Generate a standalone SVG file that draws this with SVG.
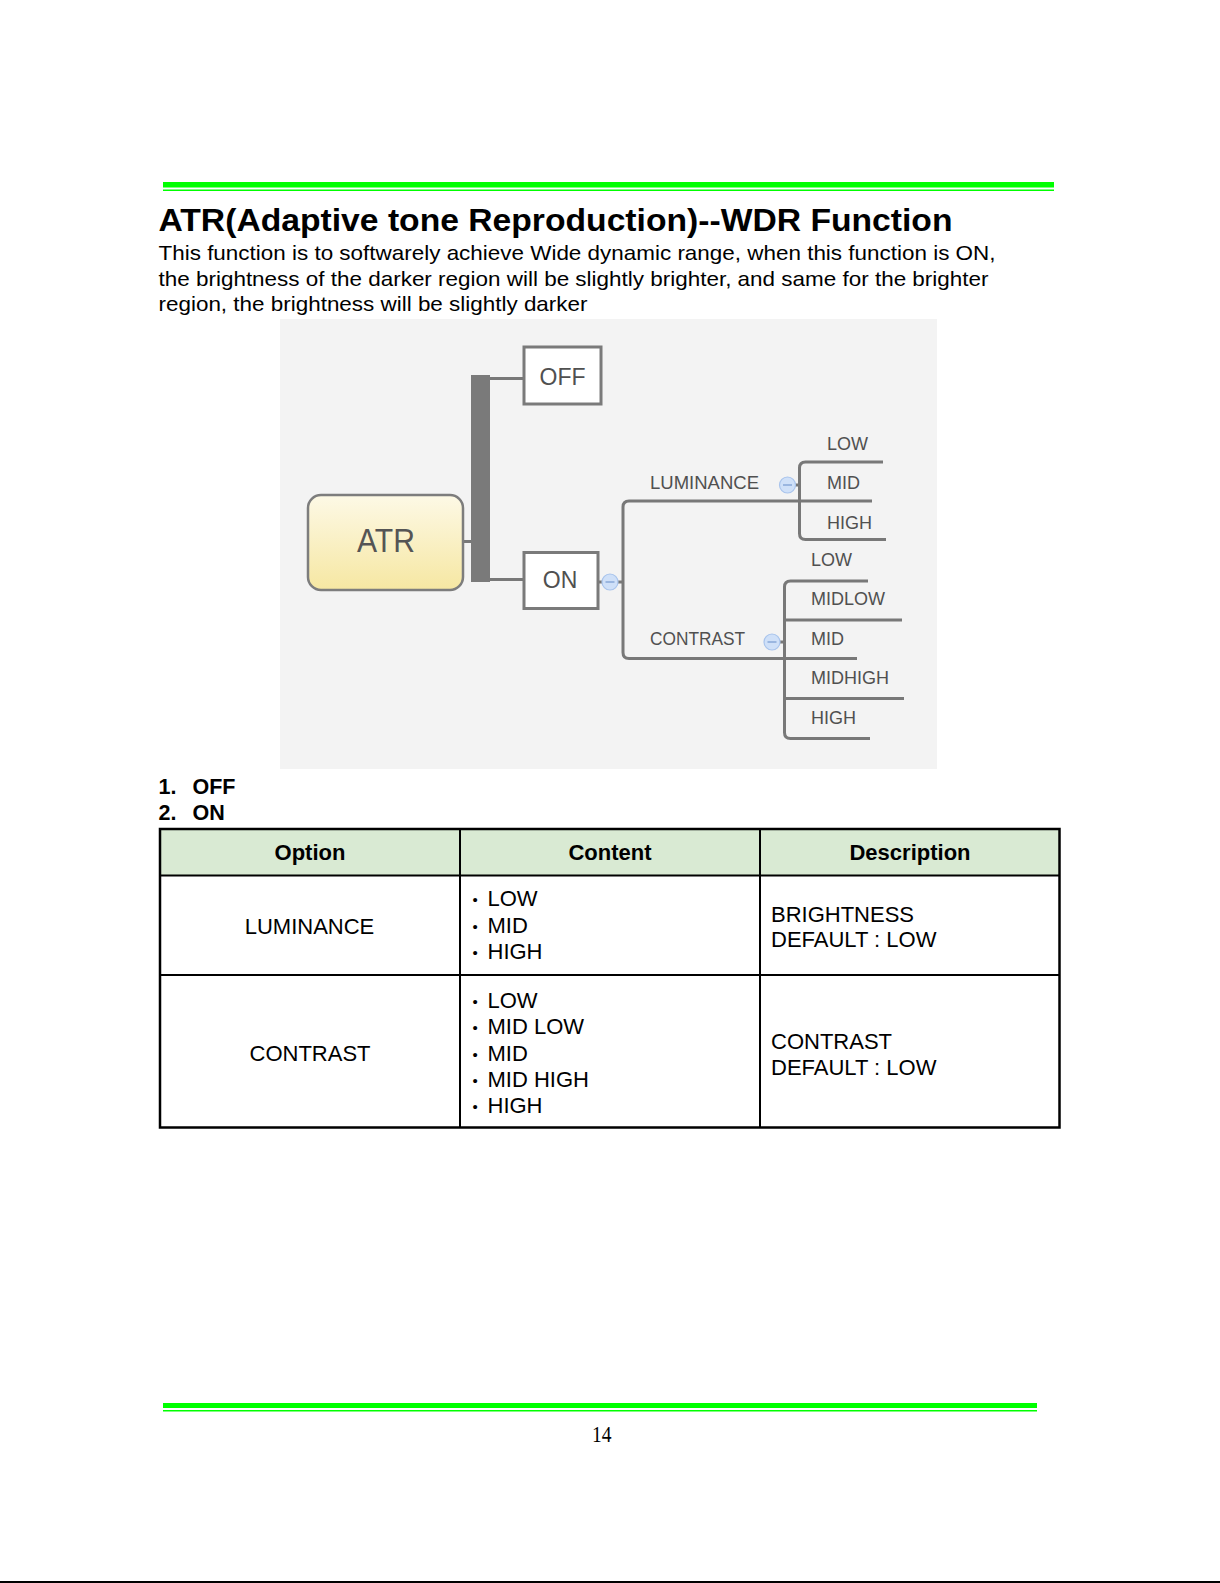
<svg xmlns="http://www.w3.org/2000/svg" width="1220" height="1583" viewBox="0 0 1220 1583">
<defs>
<linearGradient id="atrGrad" x1="0" y1="0" x2="0" y2="1">
<stop offset="0" stop-color="#fdf9e6"/>
<stop offset="1" stop-color="#f6e7a2"/>
</linearGradient>
<style>
.green{fill:#00ff00}
.body{font-family:"Liberation Sans",Arial,sans-serif;font-size:21px;fill:#000}
.title{font-family:"Liberation Sans",Arial,sans-serif;font-size:31px;font-weight:bold;fill:#000}
.bold{font-family:"Liberation Sans",Arial,sans-serif;font-size:21.5px;font-weight:bold;fill:#000}
.mm{font-family:"Liberation Sans",Arial,sans-serif;font-size:18px;fill:#505050}
.box{fill:#fff;stroke:#7a7a7a;stroke-width:3}
.box-t{font-family:"Liberation Sans",Arial,sans-serif;font-size:23px;fill:#505050;text-anchor:middle}
.link{fill:none;stroke:#787878;stroke-width:3}
.minus{fill:#cfe0f8;stroke:#a9c4ec;stroke-width:1.2}
.minus-l{stroke:#7d9fd2;stroke-width:1.3}
.tb{font-family:"Liberation Sans",Arial,sans-serif;font-size:22px;fill:#000}
.th{font-family:"Liberation Sans",Arial,sans-serif;font-size:22px;font-weight:bold;fill:#000;text-anchor:middle}
.tc{text-anchor:middle}
.bul{font-family:"Liberation Sans",Arial,sans-serif;font-size:15px;fill:#000}
.grid{stroke:#000;stroke-width:2}
</style>
</defs>
<rect x="0" y="0" width="1220" height="1583" fill="#fff"/>

<!-- header rule -->
<rect class="green" x="163" y="182" width="891" height="5.5"/>
<rect class="green" x="163" y="189.5" width="891" height="1.5"/>

<text class="title" x="158.5" y="231" textLength="794" lengthAdjust="spacingAndGlyphs">ATR(Adaptive tone Reproduction)--WDR Function</text>
<text class="body" x="158.5" y="260" textLength="837" lengthAdjust="spacingAndGlyphs">This function is to softwarely achieve Wide dynamic range, when this function is ON,</text>
<text class="body" x="158.5" y="285.5" textLength="830" lengthAdjust="spacingAndGlyphs">the brightness of the darker region will be slightly brighter, and same for the brighter</text>
<text class="body" x="158.5" y="311" textLength="429" lengthAdjust="spacingAndGlyphs">region, the brightness will be slightly darker</text>

<!-- mind map -->
<rect x="280" y="319" width="657" height="450" fill="#f3f3f3"/>

<g id="connectors">
<line class="link" x1="463" y1="541.5" x2="472" y2="541.5"/>
<rect x="471" y="375" width="19" height="207" fill="#7a7a7a"/>
<line class="link" x1="490" y1="378.5" x2="524" y2="378.5"/>
<line class="link" x1="490" y1="579.5" x2="524" y2="579.5"/>
<line class="link" x1="598" y1="582" x2="623" y2="582" stroke-width="2"/>
<path class="link" d="M 872 501 H 629 Q 623 501 623 507 V 652.5 Q 623 658.5 629 658.5 H 857"/>
<path class="link" d="M 883 462 H 805.5 Q 799.5 462 799.5 468 V 533.5 Q 799.5 539.5 805.5 539.5 H 886"/>
<path class="link" d="M 868 581 H 790.5 Q 784.5 581 784.5 587 V 732.5 Q 784.5 738.5 790.5 738.5 H 870"/>
<line class="link" x1="784.5" y1="620" x2="902" y2="620"/>
<line class="link" x1="784.5" y1="698.5" x2="904" y2="698.5"/>
<line class="link" x1="795" y1="485" x2="799.5" y2="485" stroke-width="2"/>
<line class="link" x1="780" y1="642" x2="784.5" y2="642" stroke-width="2"/>
</g>

<g id="node-atr">
<rect x="308" y="495" width="155" height="95" rx="13" fill="url(#atrGrad)" stroke="#7d7d7d" stroke-width="2.5"/>
<text class="box-t" x="386" y="552" font-size="33" textLength="58" lengthAdjust="spacingAndGlyphs" style="font-size:33px;fill:#555">ATR</text>
</g>

<g id="node-off">
<rect class="box" x="524" y="347" width="77" height="57"/>
<text class="box-t" x="562.5" y="385">OFF</text>
</g>

<g id="node-on">
<rect class="box" x="524" y="552.5" width="74" height="56"/>
<text class="box-t" x="560" y="587.5">ON</text>
<circle class="minus" cx="610" cy="582" r="8"/>
<line class="minus-l" x1="605.5" y1="582" x2="614.5" y2="582"/>
</g>

<g id="node-luminance">
<text class="mm" x="650" y="489" textLength="109" lengthAdjust="spacingAndGlyphs">LUMINANCE</text>
<circle class="minus" cx="787.5" cy="485" r="8"/>
<line class="minus-l" x1="783" y1="485" x2="792" y2="485"/>
</g>
<g id="node-lum-low"><text class="mm" x="827" y="449.5">LOW</text></g>
<g id="node-lum-mid"><text class="mm" x="827" y="489">MID</text></g>
<g id="node-lum-high"><text class="mm" x="827" y="528.5">HIGH</text></g>

<g id="node-contrast">
<text class="mm" x="650" y="645" textLength="95" lengthAdjust="spacingAndGlyphs">CONTRAST</text>
<circle class="minus" cx="772" cy="642" r="8"/>
<line class="minus-l" x1="767.5" y1="642" x2="776.5" y2="642"/>
</g>
<g id="node-con-low"><text class="mm" x="811" y="566">LOW</text></g>
<g id="node-con-midlow"><text class="mm" x="811" y="605">MIDLOW</text></g>
<g id="node-con-mid"><text class="mm" x="811" y="645">MID</text></g>
<g id="node-con-midhigh"><text class="mm" x="811" y="684">MIDHIGH</text></g>
<g id="node-con-high"><text class="mm" x="811" y="724">HIGH</text></g>

<!-- list -->
<text class="bold" y="794"><tspan x="158.5">1.</tspan><tspan x="192.5">OFF</tspan></text>
<text class="bold" y="819.5"><tspan x="158.5">2.</tspan><tspan x="192.5">ON</tspan></text>

<!-- table -->
<g id="table">
<rect x="160" y="829" width="899.5" height="46.5" fill="#d9ead3"/>
<line class="grid" x1="160" y1="875.5" x2="1059.5" y2="875.5"/>
<line class="grid" x1="160" y1="975" x2="1059.5" y2="975"/>
<line class="grid" x1="460" y1="829" x2="460" y2="1127.5"/>
<line class="grid" x1="760" y1="829" x2="760" y2="1127.5"/>
<rect x="160" y="829" width="899.5" height="298.5" fill="none" stroke="#000" stroke-width="2.5"/>

<text class="th" x="310" y="860">Option</text>
<text class="th" x="610" y="860">Content</text>
<text class="th" x="910" y="860">Description</text>

<text class="tb tc" x="309.5" y="933.5">LUMINANCE</text>
<text class="bul" x="472.5" y="905">•</text><text class="tb" x="487.5" y="906">LOW</text>
<text class="bul" x="472.5" y="932">•</text><text class="tb" x="487.5" y="933">MID</text>
<text class="bul" x="472.5" y="958">•</text><text class="tb" x="487.5" y="959">HIGH</text>
<text class="tb" x="771" y="921.5">BRIGHTNESS</text>
<text class="tb" x="771" y="947">DEFAULT : LOW</text>

<text class="tb tc" x="310" y="1061">CONTRAST</text>
<text class="bul" x="472.5" y="1007">•</text><text class="tb" x="487.5" y="1008">LOW</text>
<text class="bul" x="472.5" y="1033">•</text><text class="tb" x="487.5" y="1034">MID LOW</text>
<text class="bul" x="472.5" y="1059.5">•</text><text class="tb" x="487.5" y="1060.5">MID</text>
<text class="bul" x="472.5" y="1085.5">•</text><text class="tb" x="487.5" y="1086.5">MID HIGH</text>
<text class="bul" x="472.5" y="1112">•</text><text class="tb" x="487.5" y="1113">HIGH</text>
<text class="tb" x="771" y="1049">CONTRAST</text>
<text class="tb" x="771" y="1075">DEFAULT : LOW</text>
</g>

<!-- footer rule -->
<rect class="green" x="163" y="1403" width="874" height="5"/>
<rect class="green" x="163" y="1410" width="874" height="1.5"/>
<text x="592" y="1441.5" font-family="'Liberation Serif','Times New Roman',serif" font-size="23" textLength="19.5" lengthAdjust="spacingAndGlyphs" fill="#000">14</text>

<rect x="0" y="1581" width="1220" height="2" fill="#000"/>
</svg>
